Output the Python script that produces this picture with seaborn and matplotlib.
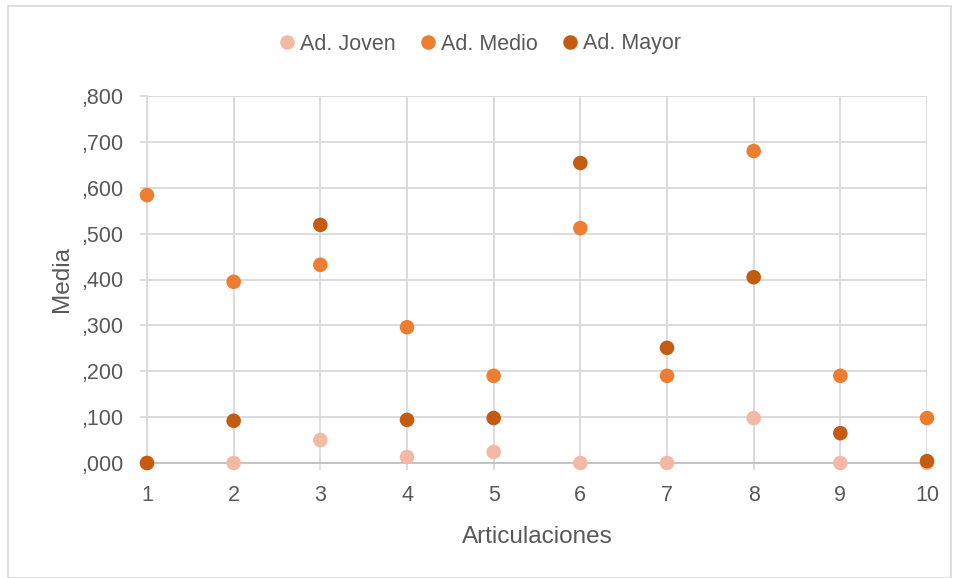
import numpy as np
import pandas as pd
import seaborn as sns
import matplotlib.pyplot as plt
from matplotlib.patches import Rectangle

articulaciones = [1, 2, 3, 4, 5, 6, 7, 8, 9, 10]
joven = [0.000, 0.000, 0.050, 0.013, 0.024, 0.000, 0.000, 0.098, 0.000, 0.000]
medio = [0.584, 0.395, 0.432, 0.296, 0.190, 0.512, 0.190, 0.680, 0.190, 0.098]
mayor = [0.000, 0.092, 0.519, 0.094, 0.098, 0.654, 0.251, 0.405, 0.065, 0.004]
series = ["Ad. Joven", "Ad. Medio", "Ad. Mayor"]
colores = ["#F4B9A4", "#ED7D31", "#C55A11"]
yticks = [0.0, 0.1, 0.2, 0.3, 0.4, 0.5, 0.6, 0.7, 0.8]
ytick_labels = [",000", ",100", ",200", ",300", ",400", ",500", ",600", ",700", ",800"]

df = pd.DataFrame({
    "Articulaciones": articulaciones * 3,
    "Media": joven + medio + mayor,
    "Serie": [s for s in series for _ in articulaciones],
})

sns.set_theme(style="white")
plt.rcParams['font.family'] = ['Liberation Sans', 'DejaVu Sans']

fig = plt.figure(figsize=(9.59, 5.78), dpi=100)
ax = fig.add_axes([147 / 959, 1 - 463 / 578, 780 / 959, 367 / 578])

sns.scatterplot(data=df, x="Articulaciones", y="Media", hue="Serie",
                hue_order=series, palette=colores, s=110, linewidth=0,
                clip_on=False, zorder=3, ax=ax)

ax.set_xlim(1, 10)
ax.set_ylim(0, 0.8)
ax.set_xticks(articulaciones)
ax.set_yticks(yticks)
ax.set_yticklabels(ytick_labels)
ax.grid(True, color="#D9D9D9", linewidth=1.3)
ax.set_axisbelow(True)
for side in ["top", "right"]:
    ax.spines[side].set_visible(False)
ax.spines["left"].set_color("#D9D9D9")
ax.spines["left"].set_linewidth(1.3)
ax.spines["bottom"].set_color("#BFBFBF")
ax.spines["bottom"].set_linewidth(1.3)
ax.tick_params(axis="both", which="both", length=5, width=1.3, color="#D9D9D9",
               labelsize=15.5, labelcolor="#595959", left=True, bottom=True)
ax.tick_params(axis="x", pad=11)
ax.tick_params(axis="y", pad=12)

ax.set_xlabel("Articulaciones", fontsize=17.5, color="#595959", labelpad=14)
ax.set_ylabel("Media", fontsize=17.5, color="#595959", labelpad=6)

handles, labels = ax.get_legend_handles_labels()
ax.legend(handles, labels, loc="center", bbox_to_anchor=(0.5, 1 - 44 / 578),
          bbox_transform=fig.transFigure, ncol=3, frameon=False, fontsize=15.5,
          labelcolor="#595959", handlelength=0.8, handletextpad=0.2,
          columnspacing=1.1, markerscale=1.0)

fig.patches.append(Rectangle((8 / 959, 0), 943 / 959, 1 - 6 / 578,
                             transform=fig.transFigure, fill=False,
                             edgecolor="#D9D9D9", linewidth=1.2))

fig.savefig("out.png", dpi=100)
